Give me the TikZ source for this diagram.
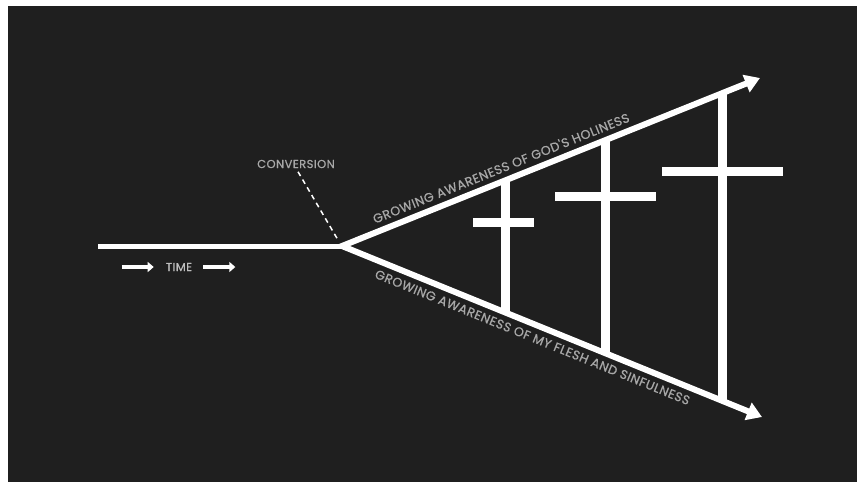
\documentclass[tikz,border=0pt]{standalone}
\usepackage{fontspec}
\setmainfont{Poppins}
\newfontfamily\labelfont{Poppins}[LetterSpace=4,FakeBold=0.8]
\usetikzlibrary{arrows.meta,calc}
\definecolor{board}{HTML}{1F1F1F}
\definecolor{lblgray}{HTML}{A8A8A8}
\tikzset{caption/.style={text=lblgray,font=\labelfont\fontsize{11.5}{13}\selectfont,inner sep=0pt},
  bigcaption/.style={caption,font=\labelfont\fontsize{12.6}{14}\selectfont},
  beam/.style={white,line width=9pt},
  tarrow/.style={white,line width=4pt,-{Triangle[length=6pt,width=10pt]}}}

\begin{document}
\begin{tikzpicture}[x=1pt,y=-1pt]
\useasboundingbox(0,0)rectangle(858,482);
\fill[white](0,0)rectangle(858,482);\fill[board](8,6)rectangle(857,482);
% time line and the two growing lines
\coordinate(start)at(98,246);\coordinate(apex)at(342,246);\coordinate(hi)at(760,78);\coordinate(lo)at(762,417);
\draw[white,line width=5pt](start)--(apex);
\draw[white,line width=6pt,miter limit=20,{Triangle[length=15pt,width=18pt]}-{Triangle[length=15pt,width=18pt]}](hi)--(apex)--(lo);
\path(apex)--(hi)node[bigcaption,pos=.392,sloped,above=8pt]{GROWING AWARENESS OF GOD'S HOLINESS};
\path(apex)--(lo)node[bigcaption,pos=.465,sloped,below=8pt]{GROWING AWARENESS OF MY FLESH AND SINFULNESS};
% conversion
\node[caption](conv)at(296,164){CONVERSION};\coordinate(cv)at(338,240);
\draw[white,line width=1.5pt,dash pattern=on 5pt off 4pt,shorten <=4pt](conv.south)--(cv);
% time
\node[caption,text=lightgray](time)at(179,267){TIME};
\draw[tarrow]([xshift=-44pt]time.west)--([xshift=-12pt]time.west);\draw[tarrow]([xshift=11pt]time.east)--([xshift=43pt]time.east);
% crosses
\draw[beam](505,180)--(505,313);\draw[beam](473,222)--(534,222);
\draw[beam](605,140)--(605,354);\draw[beam](555,196)--(656,196);
\draw[beam](722,92)--(722,402);\draw[beam](662,171)--(783,171);
\end{tikzpicture}
\end{document}
